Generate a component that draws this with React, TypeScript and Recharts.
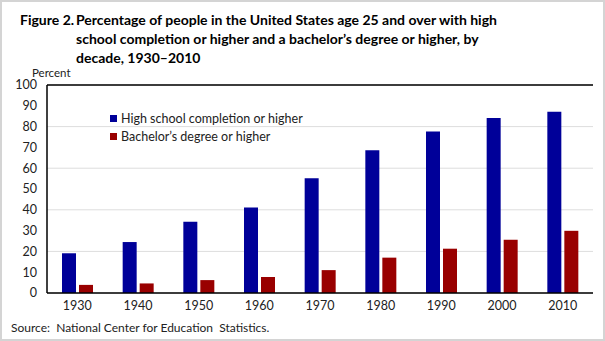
import { BarChart, Bar, CartesianGrid, XAxis, YAxis, ReferenceLine } from "recharts"

const decades = ["1930", "1940", "1950", "1960", "1970", "1980", "1990", "2000", "2010"]
const highSchool = [19.1, 24.5, 34.3, 41.1, 55.2, 68.6, 77.6, 84.1, 87.1]
const bachelors = [3.9, 4.6, 6.2, 7.7, 11.0, 17.0, 21.3, 25.6, 29.9]
const yTicks = [0, 10, 20, 30, 40, 50, 60, 70, 80, 90, 100]

const data = decades.map((d, i) => ({ decade: d, hs: highSchool[i], ba: bachelors[i] }))

const BLUE = "#000099"
const RED = "#990000"
const FONT = "Lato, 'Noto Sans', sans-serif"

const legendItems = [
  { color: BLUE, label: "High school completion or higher" },
  { color: RED, label: "Bachelor\u2019s degree or higher" },
]

function LegendBox() {
  return (
    <div style={{ position: "absolute", left: 108, top: 108, fontFamily: FONT, fontSize: 12.5, color: "#222" }}>
      {legendItems.map((it) => (
        <div key={it.label} style={{ display: "flex", alignItems: "center", height: 17.5, whiteSpace: "nowrap" }}>
          <span style={{ width: 7, height: 7, background: it.color, marginRight: 4 }} />
          <span>{it.label}</span>
        </div>
      ))}
    </div>
  )
}

export default function App() {
  const titleStyle = { position: "absolute" as const, fontFamily: FONT, fontWeight: 700, fontSize: 14, color: "#000", whiteSpace: "nowrap" as const }
  return (
    <div style={{ position: "absolute", left: 0, top: 0, width: 605, height: 341, boxSizing: "border-box", border: "2px solid #d4d4d4", background: "#fff" }}>
      <div style={{ ...titleStyle, left: 18, top: 9 }}>Figure 2.</div>
      <div style={{ ...titleStyle, left: 74, top: 9 }}>Percentage of people in the United States age 25 and over with high</div>
      <div style={{ ...titleStyle, left: 74, top: 28 }}>school completion or higher and a bachelor’s degree or higher, by</div>
      <div style={{ ...titleStyle, left: 74, top: 47 }}>decade, 1930–2010</div>
      <div style={{ position: "absolute", left: 30, top: 64, fontFamily: FONT, fontSize: 11.5, color: "#222" }}>Percent</div>
      <div style={{ position: "absolute", left: 0, top: 0 }}>
        <BarChart
          width={601}
          height={337}
          data={data}
          margin={{ top: 83, right: 10, left: 0, bottom: 16 }}
          barCategoryGap="24.5%"
          barGap={3}
        >
          <CartesianGrid vertical={false} stroke="#dddddd" />
          <XAxis
            dataKey="decade"
            height={30}
            tickLine={false}
            axisLine={{ stroke: "#000", strokeWidth: 1.5 }}
            tick={{ fill: "#222", fontSize: 12.5, fontFamily: FONT }}
            tickMargin={2}
          />
          <YAxis
            width={45}
            domain={[0, 100]}
            ticks={yTicks}
            tickLine={false}
            tickSize={0}
            tickMargin={10}
            axisLine={{ stroke: "#000", strokeWidth: 1.5 }}
            tick={{ fill: "#222", fontSize: 12.5, fontFamily: FONT }}
          />
          <YAxis
            yAxisId="right"
            orientation="right"
            width={0}
            domain={[0, 100]}
            tick={false}
            tickLine={false}
            axisLine={{ stroke: "#000", strokeWidth: 1.5 }}
          />
          <ReferenceLine y={100} stroke="#000" strokeWidth={1.5} />
          <Bar dataKey="hs" name="High school completion or higher" fill={BLUE} barSize={14} isAnimationActive={false} />
          <Bar dataKey="ba" name="Bachelor's degree or higher" fill={RED} barSize={14} isAnimationActive={false} />
        </BarChart>
      </div>
      <LegendBox />
      <div style={{ position: "absolute", left: 9, top: 318, fontFamily: FONT, fontSize: 12, color: "#222", whiteSpace: "nowrap" }}>
        Source:&nbsp; National Center for Education&nbsp; Statistics.
      </div>
    </div>
  )
}
